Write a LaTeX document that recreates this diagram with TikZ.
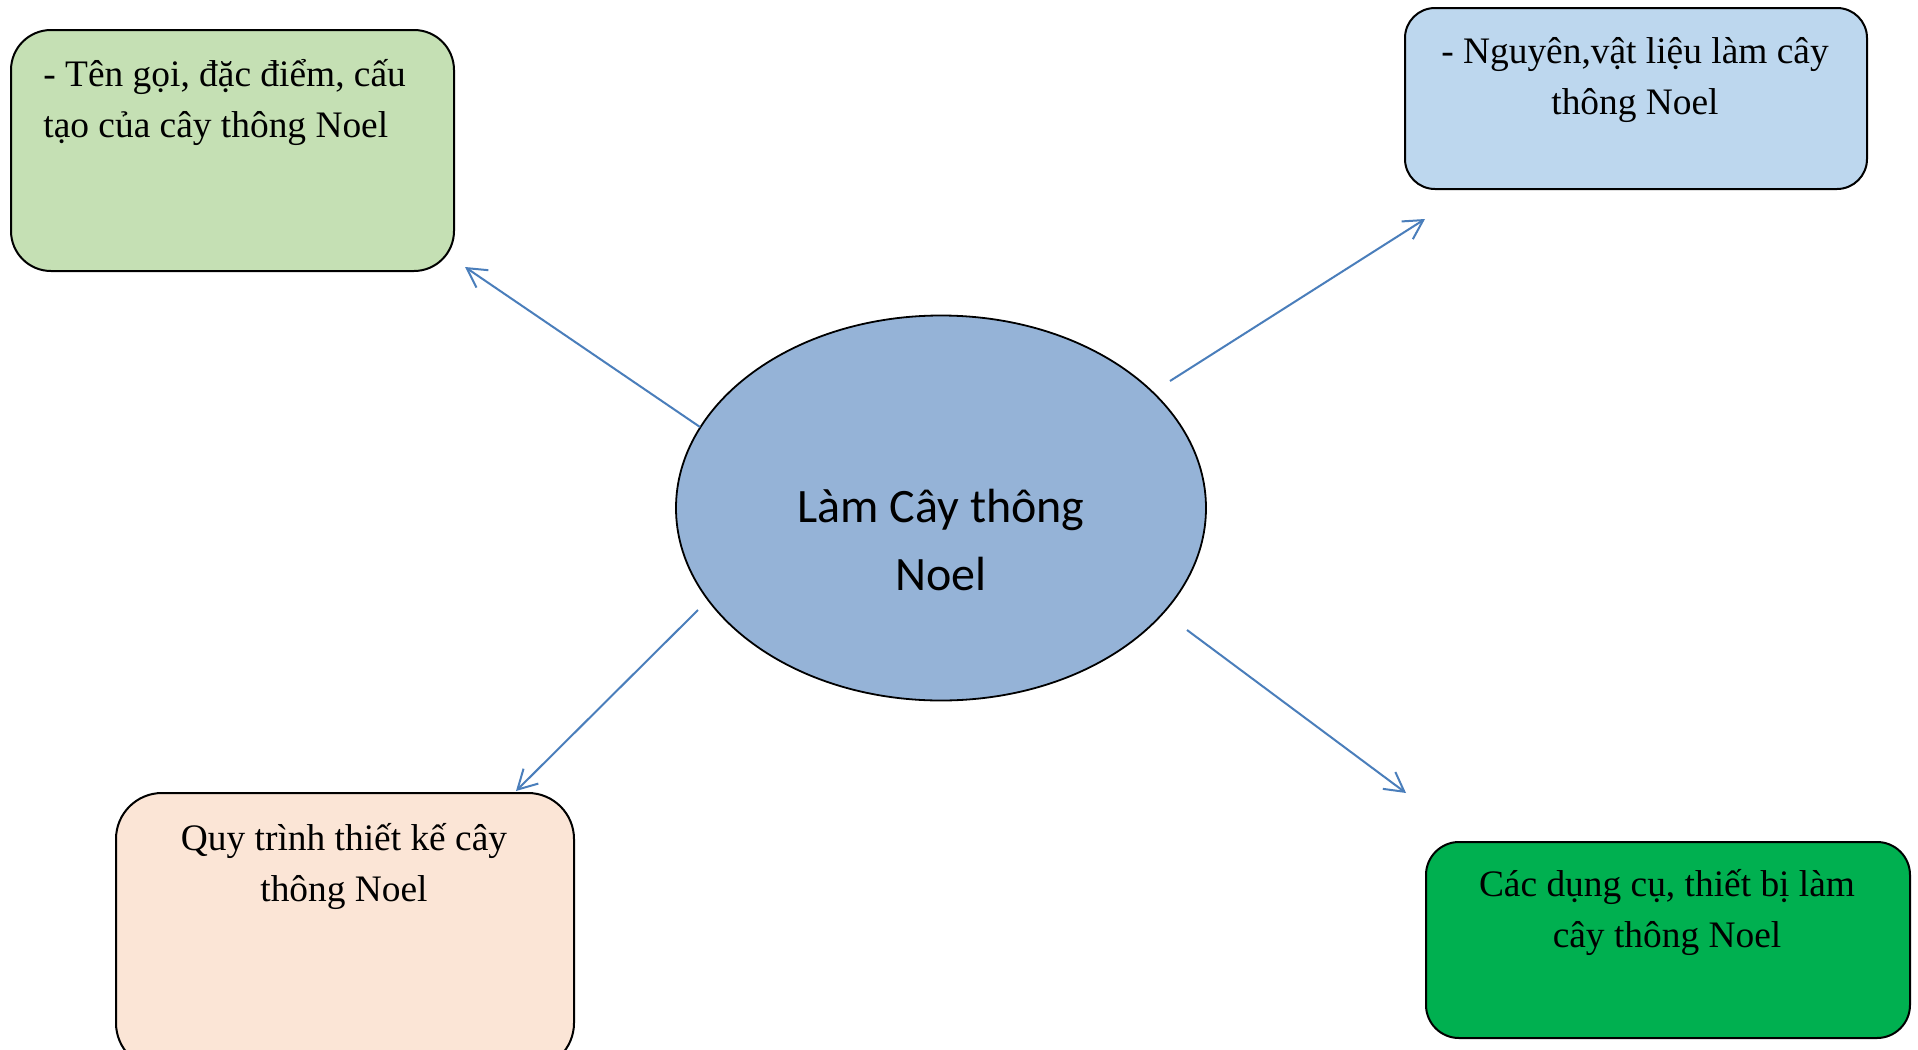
\documentclass[tikz,border=0pt]{standalone}
\usepackage{fontspec}
\setmainfont{Liberation Serif}
\newfontfamily\calib{Carlito}
\usetikzlibrary{shapes.geometric,arrows.meta}
\definecolor{ellfill}{HTML}{95B3D7}
\definecolor{greenfill}{HTML}{C5E0B4}
\definecolor{bluefill}{HTML}{BDD7EE}
\definecolor{peachfill}{HTML}{FBE5D6}
\definecolor{dgreenfill}{HTML}{00B050}
\definecolor{arrowblue}{HTML}{4A7EBB}
\newcommand{\firststrut}{\rule{0pt}{28pt}}
\tikzset{
  box/.style={draw=black, line width=1pt, inner sep=0pt, anchor=north west},
  lbl/.style={inner sep=0pt, anchor=north, align=center, font=\fontsize{18.7pt}{25.4pt}\selectfont},
  conn/.style={draw=arrowblue, line width=1pt, -{Straight Barb[length=9.5pt,width=10.5pt]}},
}
\begin{document}
\begin{tikzpicture}[x=0.5pt,y=-0.5pt]
\useasboundingbox (0,0) rectangle (1918,1050);
\clip (0,0) rectangle (1918,1050);
\fill[white] (0,0) rectangle (1918,1050);
% central ellipse
\node[ellipse, draw=black, line width=0.9pt, fill=ellfill, inner sep=0pt,
      minimum width=265pt, minimum height=192.5pt] (c) at (941,508) {};
\node[inner sep=0pt, anchor=north, align=center,
      font=\calib\fontsize{24pt}{34pt}\selectfont] (ct) at (941,482)
      {\rule{0pt}{20pt}Làm Cây thông\\Noel};
% boxes
\node[box, fill=greenfill, rounded corners=20pt, minimum width=221.5pt, minimum height=120.5pt] (g) at (10,29) {};
\node[lbl, anchor=north west, align=left] (gt) at (43,30) {\firststrut- Tên gọi, đặc điểm, cấu\\tạo của cây thông Noel};
\node[box, fill=bluefill, rounded corners=15pt, minimum width=231pt, minimum height=90.5pt] (b) at (1404,7) {};
\node[lbl] (bt) at (1635,7) {\firststrut- Nguyên,vật liệu làm cây\\thông Noel};
\node[box, fill=peachfill, rounded corners=23pt, minimum width=229pt, minimum height=138pt] (p) at (115,792) {};
\node[lbl] (pt) at (344,794) {\firststrut Quy trình thiết kế cây\\thông Noel};
\node[box, fill=dgreenfill, rounded corners=16.5pt, minimum width=242pt, minimum height=98pt] (d) at (1425,841) {};
\node[lbl] (dt) at (1667,840) {\firststrut Các dụng cụ, thiết bị làm\\cây thông Noel};
% connector ends
\coordinate (s1) at (700,427); \coordinate (e1) at (465,267);
\coordinate (s2) at (1170,381); \coordinate (e2) at (1425,219);
\coordinate (s3) at (698,610); \coordinate (e3) at (516,791);
\coordinate (s4) at (1187,630); \coordinate (e4) at (1406,793);
\draw[conn] (s1) -- (e1);
\draw[conn] (s2) -- (e2);
\draw[conn] (s3) -- (e3);
\draw[conn] (s4) -- (e4);
\end{tikzpicture}
\end{document}
